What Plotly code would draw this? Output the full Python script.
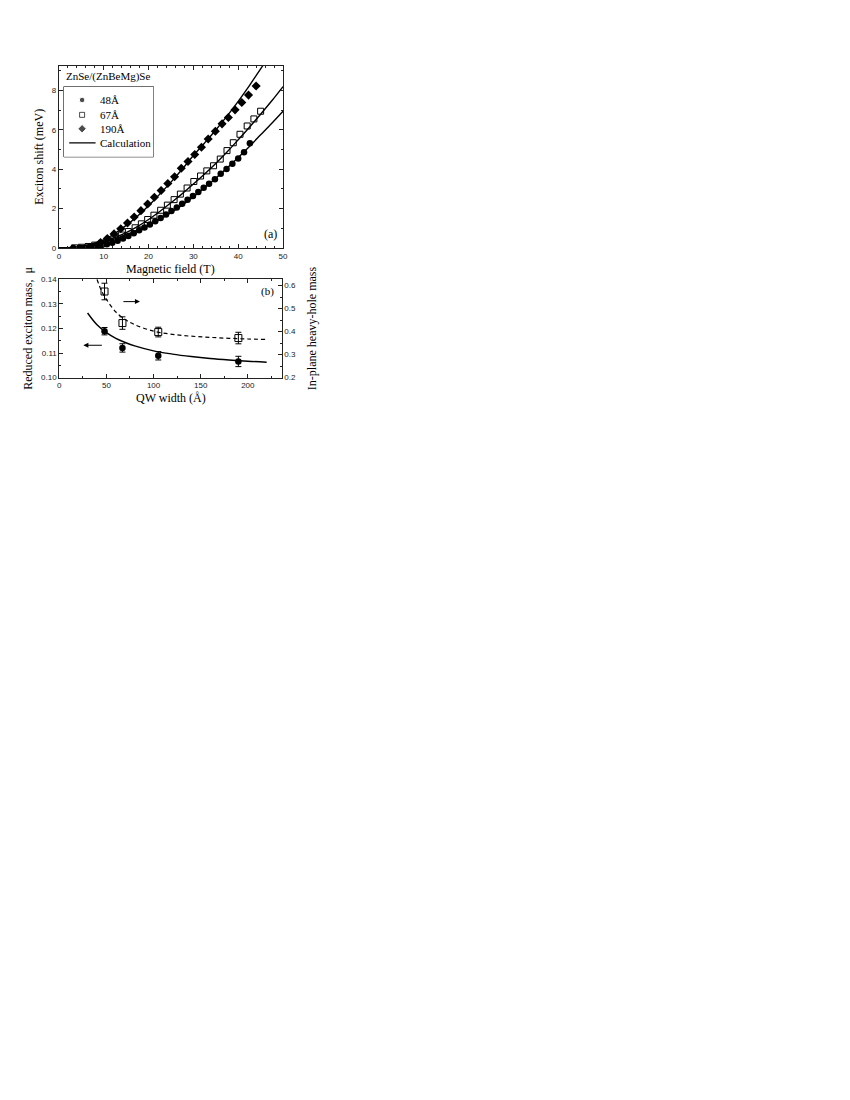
import plotly.graph_objects as go

# --- (a) exciton shift vs magnetic field ---
b48 = [3.2, 4.6, 5.9, 7.1, 8.3, 9.5, 10.7, 11.9, 13.1, 14.3, 15.5, 16.7, 17.9, 19.1, 20.3, 21.5, 22.7,
       23.9, 25.1, 26.3, 27.5, 28.7, 29.9, 31.1, 32.3, 33.5, 34.8, 36.1, 37.4, 38.7, 40.0, 41.3, 42.6]
e48 = [0.00, 0.01, 0.02, 0.04, 0.07, 0.12, 0.19, 0.27, 0.37, 0.48, 0.61, 0.75, 0.90, 1.05, 1.20, 1.36, 1.53,
       1.70, 1.88, 2.06, 2.25, 2.45, 2.65, 2.85, 3.06, 3.27, 3.50, 3.77, 4.02, 4.28, 4.55, 4.87, 5.32]

b67 = [3.5, 5.0, 6.5, 8.0, 9.5, 11.0, 12.5, 14.0, 15.5, 17.0, 18.4, 19.8, 21.2, 22.7, 24.2, 25.7, 27.1,
       28.6, 30.1, 31.6, 33.0, 34.5, 36.0, 37.5, 38.9, 40.4, 42.0, 43.5, 45.0]
e67 = [0.01, 0.04, 0.08, 0.15, 0.24, 0.36, 0.50, 0.66, 0.84, 1.03, 1.23, 1.45, 1.67, 1.92, 2.18, 2.46, 2.74,
       3.05, 3.38, 3.66, 3.92, 4.18, 4.52, 4.95, 5.35, 5.78, 6.20, 6.56, 6.95]

b190 = [9.3, 10.8, 12.3, 13.8, 15.3, 16.8, 18.3, 19.8, 21.3, 22.8, 24.3, 25.8, 27.3, 28.8, 30.3, 31.8,
        33.3, 34.9, 36.4, 37.8, 39.3, 40.8, 42.3, 44.0]
e190 = [0.28, 0.48, 0.72, 0.98, 1.27, 1.58, 1.90, 2.24, 2.58, 2.92, 3.28, 3.62, 4.05, 4.40, 4.75, 5.12,
        5.54, 5.93, 6.31, 6.63, 7.02, 7.39, 7.77, 8.23]

calc_b = [0, 2.5, 5, 7.5, 10, 12.5, 15, 17.5, 20, 22.5, 25, 27.5, 30, 32.5, 35, 37.5, 40, 42.5, 45, 47.5, 50]
calc48 = [0, 0.02, 0.08, 0.17, 0.30, 0.47, 0.68, 0.91, 1.17, 1.46, 1.80, 2.18, 2.60, 3.06, 3.55, 4.06, 4.60,
          5.16, 5.75, 6.34, 6.95]
calc67 = [0, 0.02, 0.08, 0.18, 0.33, 0.53, 0.78, 1.09, 1.45, 1.86, 2.30, 2.76, 3.25, 3.76, 4.30, 4.88, 5.50,
          6.14, 6.80, 7.48, 8.20]
calc190 = [0, 0.03, 0.10, 0.22, 0.42, 0.74, 1.15, 1.62, 2.15, 2.74, 3.35, 4.00, 4.70, 5.34, 6.00, 6.70, 7.45,
           8.25, 9.10, 9.95, 10.8]

legend_labels = ["48Å", "67Å", "190Å", "Calculation"]

# --- (b) masses vs QW width ---
qw = [48, 67, 105, 190]
mu = [0.1189, 0.1121, 0.1089, 0.1066]
mu_err = [0.0015, 0.0017, 0.0017, 0.0021]
mhh = [0.574, 0.437, 0.398, 0.372]
mhh_err = [0.036, 0.027, 0.021, 0.025]

mu_calc_x = [30, 40, 50, 60, 70, 80, 100, 120, 140, 160, 180, 200, 220]
mu_calc = [0.1263, 0.1215, 0.1183, 0.1160, 0.1143, 0.1129, 0.1109, 0.1096, 0.1086, 0.1078, 0.1072, 0.1067, 0.1063]
mhh_calc_x = [40, 45, 50, 60, 70, 80, 100, 120, 140, 160, 180, 200, 220]
mhh_calc = [0.627, 0.575, 0.540, 0.485, 0.452, 0.430, 0.402, 0.388, 0.380, 0.375, 0.371, 0.368, 0.366]

W, H = 850, 1100
PAD = 8  # page body margin around the plot div
SERIF = "Liberation Serif"
SANS = "Liberation Sans"
INK = "#222222"


def px(x):
    return (x - PAD) / W


def py(y):
    return 1 - (y - PAD) / H


fig = go.Figure()

# top panel data
fig.add_trace(go.Scatter(x=b48, y=e48, mode="markers", marker=dict(symbol="circle", size=6.5, color="black")))
fig.add_trace(go.Scatter(x=b67, y=e67, mode="markers",
                         marker=dict(symbol="square-open", size=6, color="black", line=dict(width=1))))
fig.add_trace(go.Scatter(x=b190, y=e190, mode="markers", marker=dict(symbol="diamond", size=7, color="black")))
for yy in [calc48, calc67, calc190]:
    fig.add_trace(go.Scatter(x=calc_b, y=yy, mode="lines", line=dict(color="black", width=1.4, shape="spline")))

# hand-made legend box (axis in page pixels so the entries sit like the original)
leg_y = [96.7, 111.7, 125.7]
fig.add_trace(go.Scatter(x=[80.7] * 3, y=leg_y, mode="markers", xaxis="x3", yaxis="y4",
                         marker=dict(symbol=["circle", "square-open", "diamond"], size=[5.5, 5, 6.5],
                                     color="black", line=dict(width=1))))
fig.add_trace(go.Scatter(x=[67.7, 94.3], y=[140, 140], mode="lines", xaxis="x3", yaxis="y4",
                         line=dict(color="black", width=1.4)))

# bottom panel
fig.add_trace(go.Scatter(x=mu_calc_x, y=mu_calc, mode="lines", xaxis="x2", yaxis="y2",
                         line=dict(color="black", width=1.4, shape="spline")))
fig.add_trace(go.Scatter(x=qw, y=mu, mode="markers", xaxis="x2", yaxis="y2",
                         marker=dict(symbol="circle", size=6.5, color="black"),
                         error_y=dict(type="data", array=mu_err, color="black", thickness=1, width=3)))
fig.add_trace(go.Scatter(x=mhh_calc_x, y=mhh_calc, mode="lines", xaxis="x2", yaxis="y3",
                         line=dict(color="black", width=1.2, dash="4px,3px", shape="spline")))
fig.add_trace(go.Scatter(x=qw, y=mhh, mode="markers", xaxis="x2", yaxis="y3",
                         marker=dict(symbol="square-open", size=7, color="black", line=dict(width=1)),
                         error_y=dict(type="data", array=mhh_err, color="black", thickness=1, width=3)))

tickfont = dict(family=SANS, size=8, color=INK)
titlefont = dict(family=SERIF, size=12, color="black")
common = dict(showline=True, linecolor=INK, linewidth=1, ticks="inside", ticklen=4,
              tickcolor=INK, showgrid=False, zeroline=False, tickfont=tickfont)


def minor(step):
    return dict(ticks="inside", ticklen=2, tickcolor=INK, dtick=step)


def label(text, x, y, size=11, **kw):
    return dict(text=text, x=px(x), y=py(y), xref="paper", yref="paper", showarrow=False,
                yanchor="middle", font=dict(family=SERIF, size=size, color="black"), **kw)


hidden = dict(visible=False, showgrid=False, zeroline=False, fixedrange=True)

fig.update_layout(
    width=W, height=H, margin=dict(l=0, r=0, t=0, b=0), showlegend=False,
    paper_bgcolor="white", plot_bgcolor="white",
    font=dict(family=SERIF, color="black"),
    xaxis=dict(domain=[px(57.3), px(283.3)], range=[0, 50], dtick=10, anchor="y", mirror="ticks",
               minor=minor(2), **common),
    yaxis=dict(domain=[py(246), py(62)], range=[0, 9.27], dtick=2, anchor="x", mirror="ticks",
               title=dict(text="Exciton shift (meV)", font=titlefont, standoff=5),
               minor=minor(1), **common),
    xaxis2=dict(domain=[px(57.7), px(282)], range=[0, 236], dtick=50, anchor="y2", mirror="ticks",
                minor=minor(25), **common),
    yaxis2=dict(domain=[py(376.7), py(277.5)], range=[0.10, 0.14], dtick=0.01, tickformat=".2f", anchor="x2",
                title=dict(text="Reduced exciton mass,  μ", font=titlefont, standoff=5),
                minor=minor(0.005), **common),
    yaxis3=dict(range=[0.2, 0.627], dtick=0.1, tickformat=".1f", overlaying="y2", side="right", anchor="x2",
                title=dict(text="In-plane heavy-hole mass", font=titlefont, standoff=12),
                minor=minor(0.05), **common),
    xaxis3=dict(domain=[px(62.3), px(152.7)], range=[62.3, 152.7], anchor="y4", **hidden),
    yaxis4=dict(domain=[py(154), py(83.3)], range=[154, 83.3], anchor="x3", **hidden),
    shapes=[dict(type="rect", xref="paper", yref="paper", x0=px(62.3), x1=px(152.7), y0=py(154), y1=py(83.3),
                 line=dict(color="black", width=1), fillcolor="white", layer="below")],
    annotations=[
        label("Magnetic field (T)", 170, 267.5, size=12, xanchor="center"),
        label("QW width (Å)", 170, 397.5, size=12, xanchor="center"),
        label("ZnSe/(ZnBeMg)Se", 62.5, 73, xanchor="left"),
        *[label(t, 96.5, yy, xanchor="left") for t, yy in zip(legend_labels, leg_y + [140])],
        label("(a)", 271, 232, size=12, xanchor="center"),
        label("(b)", 268, 290, xanchor="center"),
        # arrows pointing to the axis each curve belongs to
        dict(x=px(82), y=py(344), ax=20, ay=0, xref="paper", yref="paper", axref="pixel", ayref="pixel",
             showarrow=True, arrowhead=2, arrowsize=1, arrowwidth=1, arrowcolor="black", text=""),
        dict(x=px(139), y=py(300), ax=-18, ay=0, xref="paper", yref="paper", axref="pixel", ayref="pixel",
             showarrow=True, arrowhead=2, arrowsize=1, arrowwidth=1, arrowcolor="black", text=""),
    ],
)

fig.write_html("out.html")
